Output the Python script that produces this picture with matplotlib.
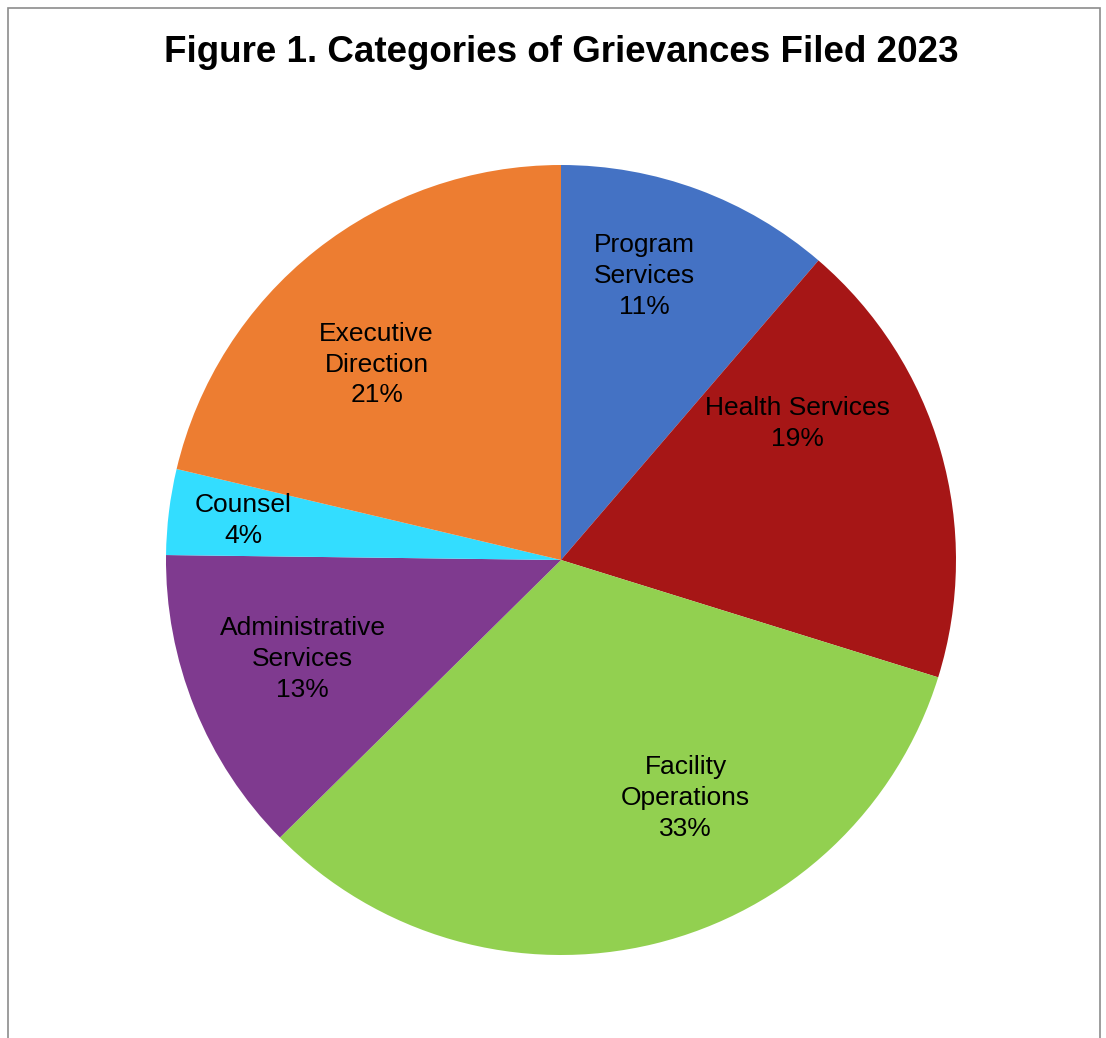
import numpy as np
import matplotlib
matplotlib.use("Agg")
import matplotlib.pyplot as plt
from matplotlib.patches import Rectangle

# Grievance categories (clockwise from 12 o'clock), share in percent
categories = ["Program\nServices", "Health Services", "Facility\nOperations",
              "Administrative\nServices", "Counsel", "Executive\nDirection"]
shares = [11.3, 18.5, 32.8, 12.6, 3.5, 21.3]
pct_labels = ["11%", "19%", "33%", "13%", "4%", "21%"]

colors = ["#4472C4", "#A61616", "#92D050", "#7F3A8F", "#33DDFF", "#ED7D31"]
# label placement tweaks (degrees offset from the slice middle, radial distance)
label_shift = [4, 14, 14, -1, 0, 5]
label_dist = [0.75, 0.69, 0.68, 0.70, 0.81, 0.68]

plt.rcParams['font.family'] = ['Liberation Sans', 'DejaVu Sans']

W, H = 1106, 1038
fig = plt.figure(figsize=(W / 100, H / 100), dpi=100)

# thin grey frame of the chart area
fig.patches.append(Rectangle((7.5 / W, -0.1), 1092 / W, 1.1 - 8.5 / H,
                             transform=fig.transFigure, fill=False,
                             edgecolor="#8c8c8c", linewidth=1.2))

cx, cy, r = 561 / W, 1 - 560 / H, 395
ax = fig.add_axes([cx - r / W, cy - r / H, 2 * r / W, 2 * r / H])
wedges, _ = ax.pie(shares, colors=colors, startangle=90, counterclock=False,
                   wedgeprops=dict(linewidth=0))
ax.set_xlim(-1, 1)
ax.set_ylim(-1, 1)
ax.axis("off")

for i, w in enumerate(wedges):
    mid = np.deg2rad((w.theta1 + w.theta2) / 2 + label_shift[i])
    x = label_dist[i] * np.cos(mid)
    y = label_dist[i] * np.sin(mid)
    ax.text(x, y, categories[i] + "\n" + pct_labels[i], ha="center", va="center",
            fontsize=19, linespacing=1.36, color="black")

fig.text(cx, 1 - 52 / H, "Figure 1. Categories of Grievances Filed 2023",
         ha="center", va="center", fontsize=26.5, fontweight="bold")

fig.savefig("out.png", dpi=100)
